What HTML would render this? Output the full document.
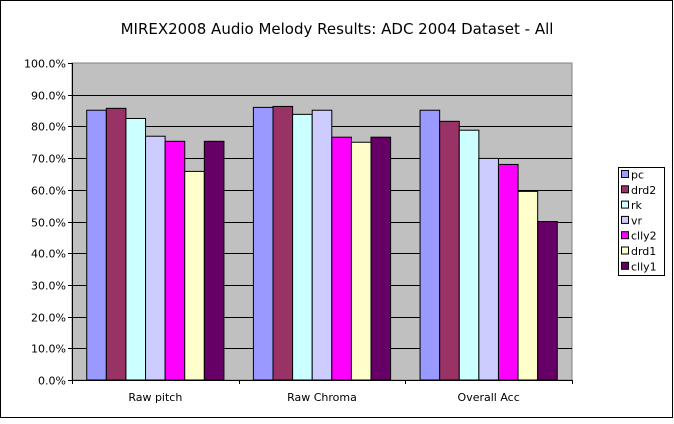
<!DOCTYPE html>
<html><head><meta charset="utf-8"><style>
body{margin:0;background:#fff;}
svg text{font-family:"DejaVu Sans","Liberation Sans",sans-serif;}
</style></head><body>
<svg width="674" height="419" xmlns="http://www.w3.org/2000/svg">
<rect x="0.5" y="0.5" width="672" height="417" fill="#fff" stroke="#000"/>
<text x="337" y="34" text-anchor="middle" font-size="15">MIREX2008 Audio Melody Results: ADC 2004 Dataset - All</text>
<rect x="72" y="63" width="500" height="317" fill="#c0c0c0" stroke="#808080"/>
<g id="grid"></g><g id="bars"></g><g id="axes"></g>
<g>
<rect x="618.5" y="167.5" width="46" height="108" fill="#fff" stroke="#000"/>
<g id="leg"></g></g>
</svg>
<script>
const categories=["Raw pitch","Raw Chroma","Overall Acc"];
const seriesNames=["pc","drd2","rk","vr","clly2","drd1","clly1"];
const colors=["#9999ff","#993366","#ccffff","#ccccff","#ff00ff","#ffffcc","#660066"];
const pc=[85.1,86.0,85.1];
const drd2=[85.7,86.3,81.6];
const rk=[82.5,83.8,78.8];
const vr=[76.9,85.1,69.9];
const clly2=[75.3,76.6,68.0];
const drd1=[65.8,75.0,59.5];
const clly1=[75.3,76.6,50.0];
const series=[pc,drd2,rk,vr,clly2,drd1,clly1];
const ticks=[0,10,20,30,40,50,60,70,80,90,100];
const NS="http://www.w3.org/2000/svg";
const X0=72,X1=572,Y0=380,Y1=63;
const y=v=>Y0-(v/100)*(Y0-Y1);
const catW=(X1-X0)/categories.length, barW=19.6, gOff=(catW-barW*seriesNames.length)/2;
function mk(t,a,p){const e=document.createElementNS(NS,t);for(const k in a)e.setAttribute(k,a[k]);p.appendChild(e);return e;}
const grid=document.getElementById('grid'),bars=document.getElementById('bars'),axes=document.getElementById('axes'),leg=document.getElementById('leg');
ticks.forEach(t=>{const yy=Math.round(y(t))+0.5;
 if(t>0&&t<100){const l=mk('line',{x1:X0,x2:X1,y1:yy,y2:yy,stroke:'#000'},grid);
 
 }
 mk('line',{x1:X0-4,x2:X0,y1:yy,y2:yy,stroke:'#000'},axes);
 const tx=mk('text',{x:X0-6,y:yy+4,'text-anchor':'end','font-size':'11'},axes);tx.textContent=t.toFixed(1)+'%';
 
 
});
categories.forEach((c,i)=>{
 series.forEach((s,j)=>{const x=X0+i*catW+gOff+j*barW;
  const r=mk('rect',{x:x,y:y(s[i]),width:barW,height:Y0-y(s[i]),fill:colors[j],stroke:'#000','stroke-width':'1'},bars);
  
  
 });
 const tx=mk('text',{x:X0+i*catW+catW/2,y:401,'text-anchor':'middle','font-size':'11'},axes);tx.textContent=c;
 
 
 const xx=Math.round(X0+(i+1)*catW)+0.5;
 mk('line',{x1:xx,x2:xx,y1:Y0,y2:Y0+4,stroke:'#000'},axes);
});
mk('line',{x1:X0+0.5,x2:X0+0.5,y1:Y1,y2:Y0+4,stroke:'#000'},axes);
mk('line',{x1:X0,x2:X1,y1:Y0+0.5,y2:Y0+0.5,stroke:'#000'},axes);
seriesNames.forEach((n,j)=>{const yy=175+j*15.3;
 const r=mk('rect',{x:621.5,y:yy-4.5,width:7,height:7,fill:colors[j],stroke:'#000'},leg);
 
 
 const t=mk('text',{x:631,y:yy+3.5,'font-size':'11'},leg);t.textContent=n;
 
 
});
</script>
</body></html>
